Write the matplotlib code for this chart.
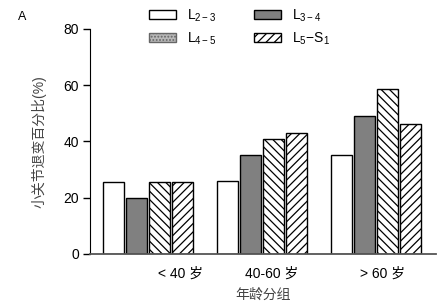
import numpy as np
import matplotlib
matplotlib.use("Agg")
import matplotlib.pyplot as plt
from matplotlib.patches import Patch

plt.rcParams['font.family'] = ['Liberation Sans', 'Noto Sans CJK SC', 'DejaVu Sans']
plt.rcParams['mathtext.fontset'] = 'custom'
plt.rcParams['mathtext.rm'] = 'Liberation Sans'
plt.rcParams['mathtext.it'] = 'Liberation Sans'
plt.rcParams['hatch.linewidth'] = 0.9

# data
groups = ['< 40 岁', '40-60 岁', '> 60 岁']
series = ['L$_{2-3}$', 'L$_{3-4}$', 'L$_{4-5}$', 'L$_5$$-$S$_1$']
l23 = [25.6, 26.0, 35.0]
l34 = [20.0, 35.2, 49.0]
l45 = [25.6, 41.0, 58.7]
l5s1 = [25.6, 43.0, 46.0]
values = [l23, l34, l45, l5s1]

colors = ['white', '#808080', 'white', 'white']
hatches = [None, None, '\\\\\\\\', '////']

fig = plt.figure(figsize=(4.43, 3.07), dpi=100)
ax = fig.add_axes([0.203, 0.173, 0.781, 0.733])

x = np.arange(len(groups))
width = 0.185
step = 0.202
for i, vals in enumerate(values):
    ax.bar(x + (i - 1.5) * step, vals, width, color=colors[i], edgecolor='black',
           hatch=hatches[i], linewidth=1.0)

ax.set_xlim(-0.51, 2.53)
ax.set_ylim(0, 80)
ax.set_yticks([0, 20, 40, 60, 80])
ax.tick_params(axis='y', direction='out', length=5, width=1, labelsize=10, pad=3)
ax.set_xticks([0.29, 1.09, 2.06])
ax.set_xticklabels(groups, fontsize=10)
ax.tick_params(axis='x', length=0, pad=9)
ax.spines['top'].set_visible(False)
ax.spines['right'].set_visible(False)
ax.spines['bottom'].set_color('#555555')
ax.spines['bottom'].set_linewidth(1.3)

ax.set_ylabel('小关节退变百分比(%)', fontsize=10, color='#444444', labelpad=12)
ax.set_xlabel('年龄分组', fontsize=10, color='#444444', labelpad=5)

# legend: L4-5 uses a dotted swatch in the original
handles = [
    Patch(facecolor='white', edgecolor='black', linewidth=1.0),
    Patch(facecolor='#808080', edgecolor='black', linewidth=1.0),
    Patch(facecolor='#b8b8b8', edgecolor='#666666', hatch='.....', linewidth=1.0),
    Patch(facecolor='white', edgecolor='black', hatch='////', linewidth=1.0),
]
order = [0, 2, 1, 3]
fig.legend([handles[i] for i in order], [series[i] for i in order], ncol=2,
           frameon=False, loc='upper left', bbox_to_anchor=(0.336, 0.975),
           borderaxespad=0, borderpad=0,
           fontsize=10, handlelength=1.95, handleheight=0.6, handletextpad=0.8,
           columnspacing=2.7, labelspacing=0.45)

fig.text(0.04, 0.935, 'A', fontsize=9)

fig.savefig('out.png', dpi=100)
